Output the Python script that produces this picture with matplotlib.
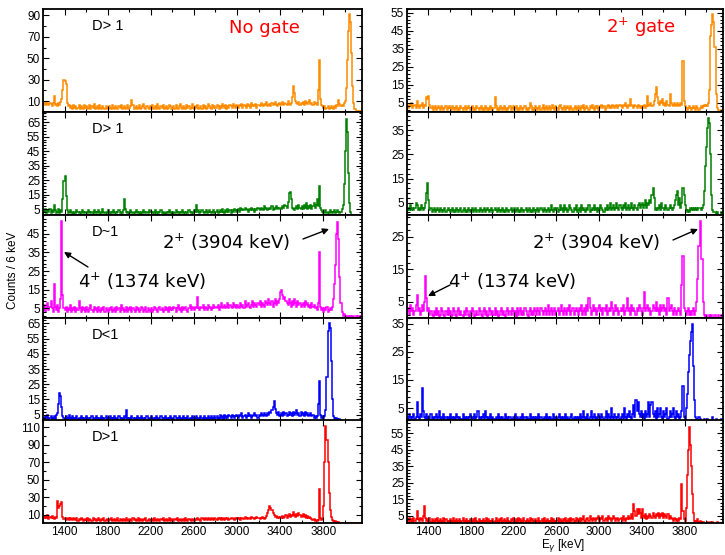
import numpy as np
import matplotlib
matplotlib.use("Agg")
import matplotlib.pyplot as plt
from matplotlib.patches import FancyArrowPatch
from matplotlib.ticker import MultipleLocator, AutoMinorLocator

# bins: 10 keV wide, 1200 -> 4160 keV (296 bins, 20 per line = 200 keV)
e_lo, e_hi, e_step = 1200, 4160, 10

# ---- no gate (left column) ----
orange_nogate = [
    7, 8, 6, 9, 7, 6, 8, 7, 5, 8, 15, 6, 7, 5, 8, 6, 9, 12, 20, 30,
    29, 26, 8, 5, 6, 4, 5, 3, 6, 4, 5, 3, 4, 6, 3, 5, 4, 3, 6, 4,
    5, 3, 4, 6, 3, 5, 4, 7, 3, 4, 5, 3, 6, 4, 3, 5, 4, 3, 5, 4,
    3, 5, 4, 3, 6, 4, 3, 5, 4, 3, 5, 4, 6, 3, 4, 5, 3, 4, 6, 3,
    4, 5, 11, 6, 3, 4, 5, 3, 4, 6, 3, 4, 5, 7, 4, 3, 5, 4, 3, 5,
    4, 6, 3, 4, 5, 3, 7, 4, 3, 5, 4, 6, 3, 4, 5, 3, 4, 6, 5, 3,
    4, 5, 3, 6, 4, 3, 5, 7, 4, 3, 5, 4, 3, 6, 4, 5, 3, 4, 7, 4,
    3, 5, 4, 6, 3, 4, 5, 3, 6, 4, 5, 3, 4, 7, 5, 4, 3, 6, 4, 5,
    4, 6, 5, 3, 5, 4, 7, 5, 4, 6, 3, 5, 4, 6, 5, 4, 7, 5, 4, 6,
    5, 4, 6, 5, 7, 4, 6, 5, 4, 7, 5, 6, 4, 8, 5, 6, 5, 7, 4, 6,
    6, 5, 8, 6, 5, 7, 6, 9, 5, 6, 7, 5, 8, 6, 7, 9, 6, 5, 7, 8,
    6, 7, 9, 6, 8, 7, 6, 10, 7, 6, 8, 14, 24, 18, 10, 8, 7, 9, 6, 8,
    7, 9, 6, 10, 8, 7, 9, 11, 7, 8, 6, 9, 7, 8, 6, 20, 48, 12, 6, 5,
    4, 5, 3, 4, 5, 3, 4, 5, 4, 3, 5, 4, 6, 5, 11, 7, 5, 6, 5, 8,
    10, 22, 48, 75, 91, 84, 55, 24, 8, 3, 1, 1, 0, 1, 0, 1]
green_nogate = [
    4, 3, 5, 2, 4, 3, 5, 2, 4, 3, 8, 4, 2, 3, 5, 2, 4, 3, 12, 24,
    28, 14, 4, 2, 3, 4, 2, 3, 1, 3, 2, 4, 3, 2, 3, 2, 4, 3, 2, 3,
    3, 2, 4, 3, 2, 3, 1, 4, 3, 2, 3, 4, 2, 3, 2, 5, 3, 2, 3, 2,
    4, 2, 3, 2, 3, 4, 2, 3, 2, 3, 4, 2, 3, 2, 4, 12, 5, 3, 2, 3,
    2, 4, 3, 2, 3, 2, 4, 3, 2, 3, 1, 3, 2, 4, 3, 2, 3, 2, 4, 3,
    3, 2, 3, 2, 4, 2, 3, 2, 3, 4, 2, 3, 2, 1, 3, 2, 3, 4, 2, 3,
    2, 3, 2, 4, 3, 2, 3, 2, 3, 4, 2, 3, 2, 3, 2, 4, 3, 2, 3, 2,
    4, 3, 8, 3, 4, 2, 3, 4, 3, 2, 3, 4, 2, 3, 4, 3, 2, 3, 4, 2,
    3, 4, 2, 3, 4, 3, 5, 3, 2, 4, 3, 5, 3, 4, 2, 4, 3, 5, 4, 3,
    4, 5, 3, 6, 4, 5, 4, 6, 5, 4, 3, 5, 4, 6, 4, 5, 3, 5, 4, 6,
    5, 4, 6, 5, 4, 7, 5, 6, 4, 5, 6, 5, 7, 4, 6, 5, 7, 6, 5, 6,
    6, 5, 7, 6, 8, 7, 6, 10, 16, 17, 12, 6, 5, 4, 6, 7, 5, 8, 6, 5,
    7, 5, 8, 6, 9, 5, 7, 6, 8, 5, 7, 9, 6, 8, 12, 7, 21, 6, 4, 3,
    2, 3, 4, 2, 3, 2, 4, 3, 2, 3, 4, 2, 3, 4, 3, 2, 3, 5, 8, 22,
    45, 67, 58, 30, 9, 3, 1, 0, 0, 1, 0, 0, 1, 0, 0, 0]
magenta_nogate = [
    4, 7, 3, 5, 8, 4, 6, 9, 5, 3, 18, 6, 4, 7, 3, 5, 10, 52, 12, 5,
    4, 6, 3, 5, 4, 7, 3, 5, 4, 6, 3, 5, 4, 9, 5, 3, 6, 4, 5, 3,
    6, 4, 3, 5, 7, 4, 3, 6, 4, 5, 3, 6, 4, 3, 5, 4, 6, 3, 5, 4,
    3, 5, 4, 6, 3, 4, 5, 3, 6, 4, 5, 3, 7, 4, 5, 3, 4, 6, 3, 5,
    4, 6, 3, 5, 4, 3, 6, 4, 5, 3, 4, 6, 5, 3, 4, 6, 3, 5, 4, 3,
    5, 3, 4, 6, 5, 4, 3, 5, 6, 4, 5, 3, 4, 6, 4, 5, 3, 6, 4, 5,
    4, 6, 5, 3, 5, 7, 4, 5, 3, 6, 4, 5, 6, 4, 3, 5, 7, 4, 6, 5,
    4, 6, 5, 11, 5, 4, 6, 5, 7, 4, 6, 5, 4, 7, 5, 6, 4, 5, 7, 5,
    6, 5, 7, 4, 6, 8, 5, 6, 7, 5, 6, 8, 5, 7, 6, 5, 8, 6, 7, 5,
    7, 6, 5, 8, 6, 7, 5, 9, 6, 7, 8, 6, 5, 7, 9, 6, 8, 7, 6, 8,
    7, 9, 6, 8, 7, 6, 9, 8, 7, 10, 8, 7, 9, 6, 8, 10, 7, 9, 8, 10,
    14, 15, 12, 10, 11, 9, 8, 7, 10, 8, 6, 9, 7, 10, 8, 6, 9, 7, 8, 6,
    7, 8, 6, 9, 7, 8, 6, 7, 5, 8, 6, 7, 5, 6, 4, 8, 35, 6, 4, 5,
    3, 5, 4, 6, 3, 4, 5, 4, 6, 10, 18, 28, 45, 51, 42, 22, 8, 3, 1, 2,
    1, 0, 1, 1, 0, 1, 0, 1, 1, 0, 1, 0, 1, 1, 0, 1]
blue_nogate = [
    3, 2, 4, 3, 5, 2, 3, 4, 2, 3, 4, 2, 5, 6, 12, 19, 17, 10, 4, 3,
    2, 4, 3, 2, 5, 3, 2, 4, 3, 2, 3, 4, 2, 3, 2, 4, 3, 2, 3, 2,
    4, 2, 3, 2, 3, 4, 2, 3, 2, 4, 3, 2, 3, 2, 4, 3, 2, 3, 4, 2,
    3, 2, 4, 3, 2, 3, 4, 2, 3, 2, 4, 3, 2, 3, 2, 4, 3, 8, 3, 2,
    3, 2, 4, 3, 2, 3, 2, 4, 3, 2, 3, 4, 2, 3, 2, 3, 4, 2, 3, 2,
    4, 2, 3, 2, 3, 4, 2, 3, 2, 4, 3, 2, 3, 4, 2, 3, 2, 3, 4, 2,
    3, 2, 4, 3, 2, 3, 4, 2, 3, 2, 4, 3, 2, 3, 4, 2, 3, 2, 4, 3,
    2, 3, 4, 2, 3, 2, 4, 3, 2, 4, 3, 2, 3, 4, 2, 3, 4, 2, 3, 4,
    3, 4, 2, 3, 5, 3, 4, 2, 5, 3, 4, 3, 5, 4, 3, 5, 4, 3, 4, 5,
    4, 3, 5, 4, 6, 3, 4, 5, 3, 4, 6, 4, 5, 3, 4, 5, 6, 4, 5, 3,
    5, 4, 6, 5, 4, 6, 5, 4, 6, 5, 7, 6, 8, 10, 14, 9, 6, 5, 7, 4,
    5, 6, 4, 7, 5, 6, 4, 5, 7, 5, 6, 4, 7, 5, 6, 8, 5, 6, 4, 7,
    5, 6, 4, 7, 5, 6, 4, 5, 6, 4, 5, 3, 4, 3, 4, 12, 27, 5, 3, 4,
    3, 4, 8, 30, 60, 65, 62, 40, 15, 4, 3, 2, 3, 2, 1, 2, 1, 0, 1, 0,
    1, 0, 0, 1, 0, 0, 1, 0, 0, 1, 0, 0, 0, 1, 0, 0]
red_nogate = [
    8, 6, 9, 7, 10, 5, 8, 6, 9, 7, 5, 8, 6, 26, 18, 20, 22, 25, 8, 5,
    6, 4, 5, 7, 4, 6, 5, 4, 7, 5, 4, 6, 3, 5, 4, 6, 5, 3, 4, 5,
    4, 6, 3, 5, 4, 3, 6, 4, 5, 3, 4, 6, 4, 3, 5, 4, 6, 3, 4, 5,
    3, 5, 4, 6, 3, 4, 5, 3, 4, 6, 3, 5, 4, 3, 5, 4, 3, 6, 4, 3,
    5, 4, 3, 6, 4, 5, 3, 4, 6, 3, 5, 4, 3, 5, 4, 6, 3, 4, 5, 3,
    4, 5, 3, 6, 4, 3, 5, 4, 3, 5, 4, 6, 3, 4, 5, 3, 4, 6, 3, 5,
    4, 3, 5, 4, 6, 3, 4, 5, 3, 4, 5, 3, 6, 4, 3, 5, 4, 3, 5, 4,
    3, 5, 4, 6, 5, 4, 3, 6, 5, 4, 7, 5, 4, 6, 5, 4, 6, 5, 4, 6,
    5, 4, 6, 5, 7, 4, 6, 5, 4, 7, 5, 6, 4, 5, 7, 6, 5, 4, 6, 5,
    7, 5, 6, 4, 7, 6, 5, 8, 6, 5, 7, 6, 5, 8, 6, 7, 5, 6, 8, 6,
    7, 5, 6, 8, 6, 5, 7, 9, 12, 16, 20, 18, 15, 12, 10, 8, 9, 7, 8, 6,
    8, 7, 9, 6, 8, 10, 7, 9, 11, 8, 10, 9, 13, 10, 8, 11, 9, 12, 10, 8,
    9, 11, 8, 10, 7, 9, 6, 8, 6, 5, 4, 5, 3, 4, 3, 4, 40, 6, 4, 5,
    20, 70, 111, 95, 70, 35, 15, 8, 4, 3, 2, 3, 2, 1, 2, 1, 1, 0, 1, 1,
    0, 1, 1, 0, 1, 0, 1, 1, 0, 1, 0, 1, 0, 0, 1, 1]

# ---- 2+ gate (right column) ----
orange_gate = [
    3, 2, 4, 3, 5, 2, 3, 4, 2, 6, 3, 2, 4, 3, 5, 2, 4, 3, 8, 7,
    9, 4, 2, 3, 1, 2, 3, 1, 2, 3, 2, 1, 3, 2, 1, 2, 3, 1, 2, 3,
    2, 1, 3, 2, 1, 2, 3, 1, 2, 1, 3, 2, 1, 2, 3, 1, 2, 3, 2, 1,
    2, 3, 1, 2, 1, 3, 2, 1, 2, 3, 1, 2, 1, 3, 2, 1, 2, 1, 3, 2,
    1, 2, 8, 3, 1, 2, 1, 3, 2, 1, 2, 3, 1, 2, 1, 2, 3, 1, 2, 3,
    1, 2, 3, 1, 2, 1, 3, 2, 1, 2, 3, 1, 2, 1, 2, 5, 3, 1, 2, 1,
    3, 2, 1, 2, 3, 1, 2, 4, 1, 2, 3, 1, 2, 3, 1, 2, 4, 2, 1, 3,
    2, 1, 3, 4, 2, 1, 2, 3, 1, 2, 3, 2, 1, 3, 2, 1, 2, 3, 1, 2,
    3, 2, 1, 3, 2, 4, 1, 2, 3, 2, 1, 3, 2, 4, 2, 1, 3, 2, 3, 1,
    2, 3, 4, 2, 3, 1, 2, 3, 4, 2, 3, 2, 4, 3, 2, 3, 4, 2, 3, 4,
    3, 2, 4, 3, 5, 3, 2, 4, 3, 7, 4, 3, 2, 4, 3, 2, 4, 3, 2, 3,
    2, 3, 4, 2, 3, 9, 3, 4, 5, 3, 4, 6, 10, 14, 8, 5, 4, 6, 5, 7,
    4, 5, 3, 6, 4, 3, 10, 5, 4, 3, 5, 4, 3, 5, 4, 3, 5, 4, 28, 6,
    3, 2, 1, 2, 3, 2, 1, 2, 3, 2, 1, 3, 2, 1, 2, 3, 2, 3, 4, 3,
    4, 3, 5, 12, 42, 48, 54, 50, 36, 10, 2, 1, 0, 0, 1, 0]
green_gate = [
    2, 3, 2, 4, 2, 3, 2, 3, 5, 4, 2, 3, 2, 4, 3, 2, 3, 5, 9, 13,
    6, 2, 3, 1, 2, 3, 1, 2, 3, 2, 1, 3, 2, 1, 2, 3, 1, 2, 3, 2,
    1, 2, 3, 1, 2, 1, 3, 2, 1, 2, 3, 1, 2, 3, 1, 2, 1, 3, 2, 1,
    2, 3, 1, 2, 3, 1, 2, 1, 3, 2, 1, 2, 3, 1, 2, 3, 2, 1, 2, 3,
    1, 2, 3, 2, 1, 3, 2, 1, 2, 3, 1, 2, 1, 3, 2, 1, 2, 3, 1, 2,
    3, 1, 2, 3, 1, 2, 1, 3, 2, 1, 2, 3, 1, 2, 3, 1, 2, 1, 3, 2,
    1, 2, 3, 1, 2, 3, 2, 1, 3, 2, 1, 2, 3, 1, 2, 4, 2, 1, 3, 2,
    3, 1, 2, 4, 2, 3, 1, 4, 2, 3, 1, 2, 4, 3, 2, 1, 3, 2, 4, 1,
    2, 3, 1, 4, 2, 3, 2, 1, 3, 2, 4, 1, 2, 3, 2, 4, 2, 3, 1, 3,
    2, 4, 3, 2, 1, 3, 2, 4, 2, 3, 5, 2, 3, 4, 2, 3, 5, 3, 2, 4,
    3, 2, 4, 3, 5, 2, 3, 4, 2, 3, 5, 3, 2, 4, 3, 2, 4, 5, 3, 4,
    5, 3, 4, 6, 3, 5, 4, 6, 5, 8, 11, 7, 2, 3, 2, 3, 4, 2, 5, 3,
    3, 2, 4, 3, 2, 3, 4, 3, 2, 3, 4, 6, 8, 10, 4, 7, 3, 5, 11, 8,
    4, 2, 1, 2, 1, 3, 2, 3, 2, 3, 2, 3, 2, 3, 3, 2, 3, 4, 10, 20,
    28, 36, 40, 38, 25, 8, 2, 1, 1, 0, 1, 0, 0, 0, 1, 0]
magenta_gate = [
    2, 3, 1, 4, 2, 3, 1, 2, 4, 7, 2, 3, 1, 2, 4, 2, 5, 13, 6, 2,
    3, 1, 2, 1, 0, 2, 1, 3, 1, 2, 0, 1, 3, 2, 1, 0, 2, 1, 3, 1,
    2, 0, 1, 3, 2, 1, 0, 2, 3, 1, 2, 1, 0, 2, 1, 3, 2, 1, 0, 2,
    1, 3, 2, 0, 1, 2, 1, 3, 2, 1, 0, 2, 3, 1, 2, 0, 1, 3, 2, 1,
    2, 1, 3, 1, 2, 0, 1, 2, 3, 1, 2, 1, 0, 2, 3, 1, 2, 1, 3, 2,
    1, 2, 0, 3, 1, 2, 3, 1, 2, 1, 3, 2, 1, 0, 2, 3, 1, 2, 1, 3,
    2, 1, 3, 2, 1, 3, 2, 1, 2, 3, 1, 2, 4, 1, 2, 3, 1, 2, 3, 1,
    2, 3, 1, 2, 4, 2, 1, 3, 2, 1, 3, 2, 4, 1, 2, 3, 1, 2, 3, 2,
    1, 3, 2, 4, 1, 2, 3, 1, 4, 2, 6, 3, 1, 2, 4, 2, 3, 1, 2, 3,
    4, 2, 3, 1, 3, 2, 4, 1, 2, 3, 2, 5, 3, 1, 2, 4, 2, 3, 1, 2,
    3, 2, 4, 1, 2, 3, 6, 2, 3, 1, 4, 2, 3, 2, 1, 3, 2, 4, 3, 2,
    1, 3, 8, 2, 3, 4, 2, 3, 1, 2, 4, 3, 2, 5, 2, 3, 1, 4, 2, 3,
    4, 2, 3, 1, 6, 2, 3, 4, 2, 1, 3, 2, 1, 2, 3, 2, 1, 10, 19, 3,
    2, 1, 2, 3, 1, 2, 1, 2, 3, 1, 2, 5, 12, 22, 30, 18, 18, 5, 1, 0,
    1, 0, 0, 1, 0, 1, 0, 0, 1, 0, 0, 1, 0, 0, 1, 0]
blue_gate = [
    2, 1, 3, 2, 1, 2, 3, 1, 2, 7, 2, 1, 3, 2, 12, 4, 2, 1, 3, 1,
    2, 1, 3, 1, 2, 1, 2, 3, 1, 2, 4, 1, 2, 1, 3, 1, 2, 1, 2, 1,
    3, 1, 2, 1, 2, 1, 3, 2, 1, 2, 1, 1, 3, 1, 2, 1, 2, 1, 2, 3,
    1, 2, 1, 3, 1, 2, 4, 1, 2, 1, 2, 3, 1, 4, 2, 1, 2, 1, 3, 1,
    2, 1, 1, 2, 1, 3, 1, 2, 1, 2, 1, 1, 3, 1, 2, 1, 2, 1, 1, 2,
    1, 3, 1, 2, 1, 1, 2, 1, 3, 1, 2, 1, 2, 1, 1, 3, 1, 2, 1, 2,
    1, 2, 1, 3, 1, 2, 1, 1, 2, 1, 3, 1, 2, 1, 2, 1, 1, 3, 1, 2,
    1, 2, 3, 1, 2, 1, 2, 1, 3, 1, 2, 1, 1, 2, 3, 1, 2, 1, 2, 1,
    2, 1, 3, 1, 2, 4, 1, 2, 1, 3, 1, 2, 4, 1, 2, 3, 1, 2, 1, 3,
    2, 1, 3, 2, 1, 2, 4, 1, 3, 2, 1, 5, 2, 1, 3, 2, 1, 2, 3, 1,
    2, 3, 1, 5, 2, 1, 3, 2, 4, 2, 1, 3, 6, 2, 8, 4, 7, 3, 2, 4,
    2, 3, 1, 4, 2, 3, 7, 2, 6, 7, 3, 2, 4, 1, 5, 2, 3, 5, 2, 1,
    4, 2, 3, 5, 1, 2, 4, 2, 3, 5, 2, 1, 4, 2, 3, 1, 2, 4, 13, 2,
    1, 5, 10, 18, 24, 29, 32, 35, 20, 8, 2, 1, 0, 2, 1, 0, 0, 0, 1, 0,
    0, 1, 0, 0, 0, 0, 2, 0, 0, 1, 0, 0, 0, 0, 1, 0]
red_gate = [
    3, 2, 4, 2, 3, 1, 4, 2, 3, 8, 3, 2, 4, 3, 2, 5, 11, 4, 2, 3,
    2, 4, 1, 3, 2, 1, 3, 2, 4, 1, 2, 3, 1, 2, 4, 1, 3, 2, 1, 2,
    3, 1, 2, 4, 1, 2, 3, 1, 2, 3, 1, 2, 4, 2, 1, 3, 2, 1, 2, 3,
    1, 2, 3, 1, 4, 2, 1, 3, 2, 1, 2, 3, 1, 2, 4, 1, 3, 2, 1, 2,
    3, 1, 2, 4, 2, 1, 3, 2, 4, 1, 2, 3, 2, 1, 4, 2, 1, 3, 2, 4,
    1, 2, 3, 1, 4, 2, 3, 1, 2, 4, 2, 1, 3, 2, 1, 4, 2, 3, 1, 2,
    3, 1, 2, 4, 1, 2, 3, 1, 4, 2, 1, 3, 2, 1, 2, 4, 1, 3, 2, 1,
    2, 4, 1, 3, 2, 1, 3, 2, 4, 1, 2, 3, 1, 4, 2, 3, 1, 2, 4, 2,
    3, 1, 4, 2, 3, 5, 2, 1, 3, 4, 2, 5, 3, 2, 4, 3, 2, 4, 3, 5,
    2, 4, 3, 5, 2, 3, 4, 2, 5, 3, 4, 2, 3, 5, 4, 2, 3, 4, 2, 3,
    4, 2, 5, 3, 2, 4, 3, 5, 3, 4, 6, 3, 12, 8, 5, 9, 6, 9, 7, 4,
    9, 5, 4, 6, 3, 5, 4, 6, 5, 4, 7, 5, 4, 6, 5, 7, 4, 6, 5, 7,
    4, 6, 5, 4, 6, 3, 5, 4, 3, 2, 4, 3, 2, 3, 2, 4, 3, 24, 8, 3,
    2, 10, 30, 45, 59, 48, 35, 18, 7, 2, 1, 2, 3, 1, 2, 1, 0, 1, 0, 0,
    0, 1, 0, 0, 1, 0, 1, 0, 0, 0, 1, 0, 0, 0, 0, 0]

colors = ["#ff8c00", "#008000", "#ff00ff", "#0000ff", "#ff0000"]
row_labels = ["D> 1", "D> 1", "D~1", "D<1", "D>1"]
left_data = [orange_nogate, green_nogate, magenta_nogate, blue_nogate, red_nogate]
right_data = [orange_gate, green_gate, magenta_gate, blue_gate, red_gate]

# y-limits and labelled ticks per row
left_ylim = [(0, 96), (1, 72), (0, 55), (1, 68.5), (1, 118)]
left_yticks = [[10, 30, 50, 70, 90], [5, 15, 25, 35, 45, 55, 65], [5, 15, 25, 35, 45],
               [5, 15, 25, 35, 45, 55, 65], [10, 30, 50, 70, 90, 110]]
right_ylim = [(0, 57), (0, 42.5), (0, 31.7), (0.5, 37), (0.8, 63)]
right_yticks = [[5, 15, 25, 35, 45, 55], [5, 15, 25, 35], [5, 15, 25],
                [5, 15, 25, 35], [5, 15, 25, 35, 45, 55]]
xtick_vals = [1400, 1800, 2200, 2600, 3000, 3400, 3800]

plt.rcParams['font.family'] = ['Liberation Sans', 'DejaVu Sans']
W, H = 725, 555
fig = plt.figure(figsize=(W / 100, H / 100), dpi=100)

edges = np.arange(e_lo, e_hi + 1, e_step)
row_top_px = [9, 112, 215, 318, 420]
row_h_px = 102.8


def fx(px):
    return px / W


def fy(py):
    return 1 - py / H


def setup(ax, ylim, yticks, bottom):
    ax.set_xlim(e_lo, e_hi)
    ax.set_ylim(*ylim)
    ax.set_yticks(yticks)
    ax.set_xticks(xtick_vals)
    ax.xaxis.set_minor_locator(MultipleLocator(200))
    ax.yaxis.set_minor_locator(AutoMinorLocator(5 if yticks[1] - yticks[0] == 10 else 2))
    ax.tick_params(which='both', direction='in', top=True, right=True,
                   labelsize=8.5, width=0.8, pad=2)
    ax.tick_params(which='major', length=4)
    ax.tick_params(which='minor', length=2)
    if not bottom:
        ax.tick_params(axis='x', labelbottom=False)
    for s in ax.spines.values():
        s.set_linewidth(1.3)


for r in range(5):
    top = row_top_px[r]
    b = fy(top + row_h_px)
    h = row_h_px / H
    axl = fig.add_axes([fx(43), b, fx(319), h])
    axr = fig.add_axes([fx(407), b, fx(316), h])
    axl.stairs(left_data[r], edges, color=colors[r], lw=1.1)
    axr.stairs(right_data[r], edges, color=colors[r], lw=1.1)
    setup(axl, left_ylim[r], left_yticks[r], r == 4)
    setup(axr, right_ylim[r], right_yticks[r], r == 4)
    fig.text(fx(92), fy(top + 10), row_labels[r], fontsize=10.5, va='top', ha='left')

# panel titles
fig.text(fx(229), fy(33), "No gate", color='red', fontsize=13, family='DejaVu Sans')
fig.text(fx(606), fy(33), "2$^{+}$ gate", color='red', fontsize=13, family='DejaVu Sans')

# arrows and level labels in the D~1 row
arrow = dict(arrowstyle='-|>', color='black', lw=1.0, mutation_scale=9, shrinkA=0, shrinkB=0)
ann = [
    ("2$^{+}$ (3904 keV)", (162, 249), (303, 239), (329, 229)),
    ("4$^{+}$ (1374 keV)", (78, 288), (88, 267), (64, 252)),
    ("2$^{+}$ (3904 keV)", (532, 249), (673, 240), (698, 229)),
    ("4$^{+}$ (1374 keV)", (448, 288), (450, 285), (428, 296)),
]
for txt, pos, a0, a1 in ann:
    fig.text(fx(pos[0]), fy(pos[1]), txt, fontsize=13, family='DejaVu Sans',
             ha='left', va='baseline')
    fig.add_artist(FancyArrowPatch((fx(a0[0]), fy(a0[1])), (fx(a1[0]), fy(a1[1])),
                                   transform=fig.transFigure, **arrow))

fig.text(fx(13), fy(270), "Counts / 6 keV", rotation=90, fontsize=8.5,
         ha='center', va='center')
fig.text(fx(563), fy(546), r"E$_{\gamma}$ [keV]", fontsize=8.5, ha='center', va='center')

fig.savefig("out.png", dpi=100)
